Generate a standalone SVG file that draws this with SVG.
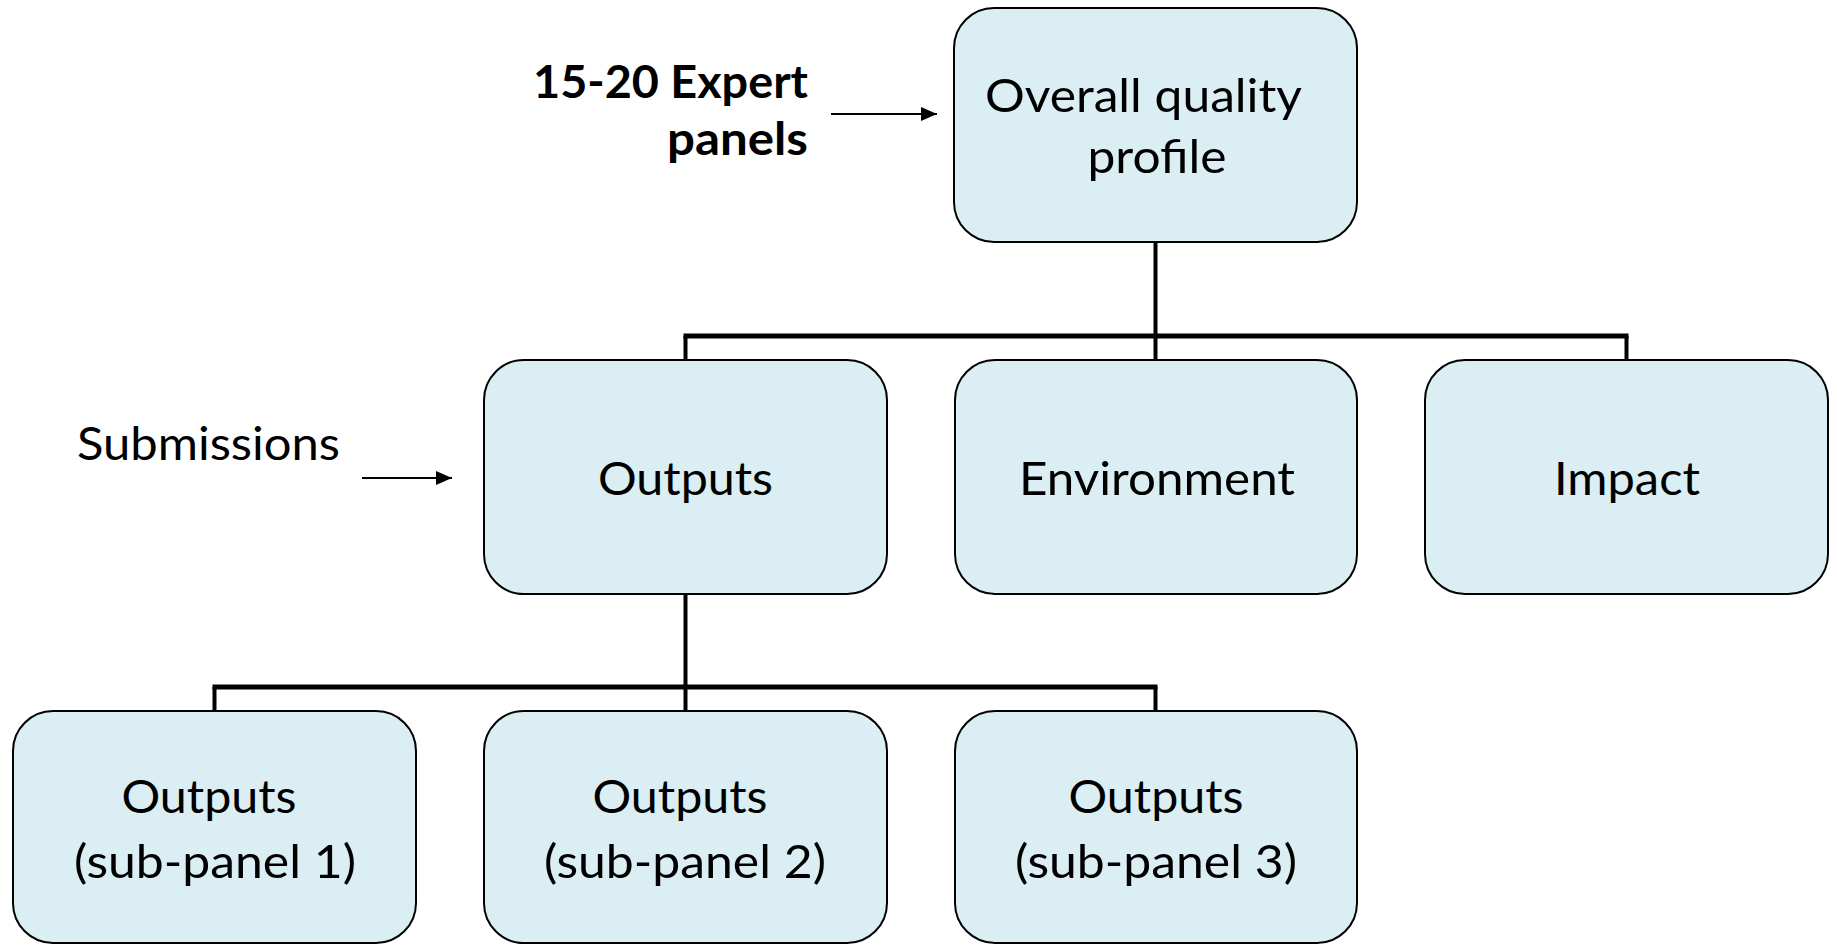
<svg xmlns="http://www.w3.org/2000/svg" width="1837" height="945" viewBox="0 0 1837 945">
<style>
.box{fill:#DAEEF3;stroke:#000;stroke-width:2}
.lbl{font-family:Lato,"Open Sans",sans-serif;font-size:47px;fill:#000;text-anchor:middle}
.side{font-family:Lato,"Open Sans",sans-serif;font-size:46px;fill:#000}
.bold{font-weight:bold;text-anchor:end}
.v{stroke:#000;stroke-width:4;fill:none}
.h{stroke:#000;stroke-width:5;fill:none}
.arr{stroke:#000;stroke-width:2;fill:none}
</style>
<defs>
<marker id="ah" viewBox="0 0 16 14" refX="16" refY="7" markerWidth="16" markerHeight="14" markerUnits="userSpaceOnUse" orient="auto">
<path d="M0,0 L16,7 L0,14 Z" fill="#000"/>
</marker>
</defs>
<g id="connectors">
<path class="v" d="M1155.5 242V336M685.5 336V360M1155.5 336V360M1626.5 336V360"/>
<path class="h" d="M683.5 336H1628.5"/>
<path class="v" d="M685.5 594V687M214.5 687V711M685.5 687V711M1155.5 687V711"/>
<path class="h" d="M212.5 687H1157.5"/>
<path class="arr" d="M831 114H937" marker-end="url(#ah)"/>
<path class="arr" d="M362 478H452" marker-end="url(#ah)"/>
</g>
<g id="node-overall">
<rect class="box" x="954" y="8" width="403" height="234" rx="40"/>
<text class="lbl" x="1143.5" y="112" textLength="317" lengthAdjust="spacingAndGlyphs">Overall quality</text>
<text class="lbl" x="1157" y="173" textLength="139" lengthAdjust="spacingAndGlyphs">profile</text>
</g>
<g id="node-outputs">
<rect class="box" x="484" y="360" width="403" height="234" rx="40"/>
<text class="lbl" x="685.5" y="495" textLength="175" lengthAdjust="spacingAndGlyphs">Outputs</text>
</g>
<g id="node-environment">
<rect class="box" x="955" y="360" width="402" height="234" rx="40"/>
<text class="lbl" x="1157" y="495" textLength="276" lengthAdjust="spacingAndGlyphs">Environment</text>
</g>
<g id="node-impact">
<rect class="box" x="1425" y="360" width="403" height="234" rx="40"/>
<text class="lbl" x="1627" y="495" textLength="146" lengthAdjust="spacingAndGlyphs">Impact</text>
</g>
<g id="node-sub1">
<rect class="box" x="13" y="711" width="403" height="232" rx="40"/>
<text class="lbl" x="209" y="813" textLength="175" lengthAdjust="spacingAndGlyphs">Outputs</text>
<text class="lbl" x="215" y="878" textLength="282" lengthAdjust="spacingAndGlyphs">(sub-panel 1)</text>
</g>
<g id="node-sub2">
<rect class="box" x="484" y="711" width="403" height="232" rx="40"/>
<text class="lbl" x="680" y="813" textLength="175" lengthAdjust="spacingAndGlyphs">Outputs</text>
<text class="lbl" x="685" y="878" textLength="282" lengthAdjust="spacingAndGlyphs">(sub-panel 2)</text>
</g>
<g id="node-sub3">
<rect class="box" x="955" y="711" width="402" height="232" rx="40"/>
<text class="lbl" x="1156" y="813" textLength="175" lengthAdjust="spacingAndGlyphs">Outputs</text>
<text class="lbl" x="1156" y="878" textLength="282" lengthAdjust="spacingAndGlyphs">(sub-panel 3)</text>
</g>
<g id="label-expert">
<text class="side bold" x="808" y="98" textLength="275" lengthAdjust="spacingAndGlyphs">15-20 Expert</text>
<text class="side bold" x="808" y="155" textLength="141" lengthAdjust="spacingAndGlyphs">panels</text>
</g>
<g id="label-submissions">
<text class="side" x="77" y="460" textLength="263" lengthAdjust="spacingAndGlyphs">Submissions</text>
</g>
</svg>
